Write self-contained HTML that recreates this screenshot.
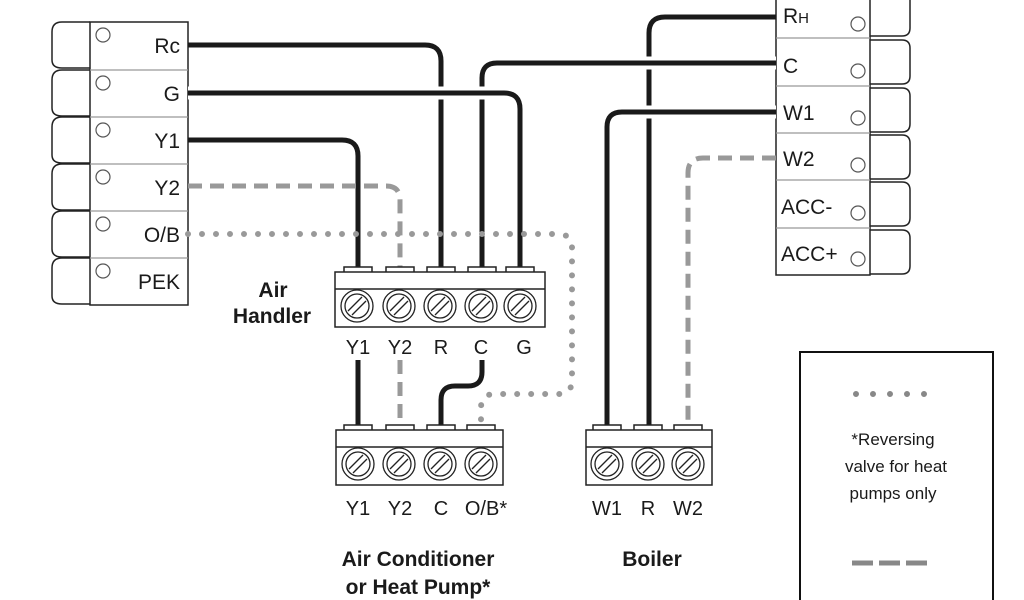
<!DOCTYPE html>
<html><head><meta charset="utf-8"><style>
html,body{margin:0;padding:0;background:#fff;}
svg{display:block;}
text{font-family:"Liberation Sans","DejaVu Sans",sans-serif;fill:#1a1a1a;}
</style></head><body>
<svg width="1024" height="600" viewBox="0 0 1024 600" xmlns="http://www.w3.org/2000/svg">
<!-- Left terminal block -->
<g fill="#fff" stroke="#222" stroke-width="1.5">
<path d="M90 22 H62 Q52 22 52 32 V60 Q52 68 62 68 H90"/>
<path d="M90 70 H62 Q52 70 52 80 V108 Q52 116 62 116 H90"/>
<path d="M90 117 H62 Q52 117 52 127 V155 Q52 163 62 163 H90"/>
<path d="M90 164 H62 Q52 164 52 174 V202 Q52 210 62 210 H90"/>
<path d="M90 211 H62 Q52 211 52 221 V249 Q52 257 62 257 H90"/>
<path d="M90 258 H62 Q52 258 52 268 V296 Q52 304 62 304 H90"/>
<rect x="90" y="22" width="98" height="283"/>
</g>
<g stroke="#999" stroke-width="1.2"><line x1="90" y1="70" x2="188" y2="70"/><line x1="90" y1="117" x2="188" y2="117"/><line x1="90" y1="164" x2="188" y2="164"/><line x1="90" y1="211" x2="188" y2="211"/><line x1="90" y1="258" x2="188" y2="258"/></g>
<g fill="none" stroke="#555" stroke-width="1.2"><circle cx="103" cy="35" r="7"/><circle cx="103" cy="83" r="7"/><circle cx="103" cy="130" r="7"/><circle cx="103" cy="177" r="7"/><circle cx="103" cy="224" r="7"/><circle cx="103" cy="271" r="7"/></g>
<g font-size="21" text-anchor="end"><text x="180" y="53">Rc</text><text x="180" y="101">G</text><text x="180" y="148">Y1</text><text x="180" y="195">Y2</text><text x="180" y="242">O/B</text><text x="180" y="289">PEK</text></g>

<!-- Right terminal block -->
<g fill="#fff" stroke="#222" stroke-width="1.5">
<path d="M870 -10 H902 Q910 -10 910 0 V28 Q910 36 902 36 H870"/>
<path d="M870 40 H902 Q910 40 910 48 V76 Q910 84 902 84 H870"/>
<path d="M870 88 H902 Q910 88 910 96 V124 Q910 132 902 132 H870"/>
<path d="M870 135 H902 Q910 135 910 143 V171 Q910 179 902 179 H870"/>
<path d="M870 182 H902 Q910 182 910 190 V218 Q910 226 902 226 H870"/>
<path d="M870 230 H902 Q910 230 910 238 V266 Q910 274 902 274 H870"/>
<rect x="776" y="-10" width="94" height="285"/>
</g>
<g stroke="#999" stroke-width="1.2"><line x1="776" y1="38" x2="870" y2="38"/><line x1="776" y1="86" x2="870" y2="86"/><line x1="776" y1="133" x2="870" y2="133"/><line x1="776" y1="180" x2="870" y2="180"/><line x1="776" y1="228" x2="870" y2="228"/></g>
<g fill="none" stroke="#555" stroke-width="1.2"><circle cx="858" cy="24" r="7"/><circle cx="858" cy="71" r="7"/><circle cx="858" cy="118" r="7"/><circle cx="858" cy="165" r="7"/><circle cx="858" cy="213" r="7"/><circle cx="858" cy="259" r="7"/></g>
<g font-size="21"><text x="783" y="23">R<tspan font-size="15">H</tspan></text><text x="783" y="73">C</text><text x="783" y="120">W1</text><text x="783" y="166">W2</text><text x="781" y="214">ACC-</text><text x="781" y="261">ACC+</text></g>

<!-- Wires -->
<g fill="none" stroke-width="5">
<path d="M776 17 H665 Q649 17 649 33 V430" stroke="#1a1a1a"/>
<path d="M776 63 H497 Q482 63 482 78 V270" stroke="#fff" stroke-width="13"/>
<path d="M776 63 H497 Q482 63 482 78 V270" stroke="#1a1a1a"/>
<path d="M188 45 H425 Q441 45 441 61 V270" stroke="#1a1a1a"/>
<path d="M188 93 H504 Q520 93 520 109 V270" stroke="#fff" stroke-width="13"/>
<path d="M188 93 H504 Q520 93 520 109 V270" stroke="#1a1a1a"/>
<path d="M776 112 H622 Q607 112 607 127 V430" stroke="#fff" stroke-width="13"/>
<path d="M776 112 H622 Q607 112 607 127 V430" stroke="#1a1a1a"/>
<path d="M188 140 H342 Q358 140 358 156 V270" stroke="#1a1a1a"/>
<path d="M188 186 H386 Q400 186 400 200 V270" stroke="#999" stroke-dasharray="14 8"/>
<path d="M776 158 H703 Q688 158 688 173 V430" stroke="#999" stroke-dasharray="14 8"/>
<path d="M188 234 H558 Q572 234 572 248 V380 Q572 394 558 394 H495 Q481 394 481 408 V425" stroke="#999" stroke-width="6" stroke-linecap="round" stroke-dasharray="0 14"/>
<path d="M358 360 V430" stroke="#1a1a1a"/>
<path d="M400 360 V430" stroke="#999" stroke-dasharray="14 8"/>
<path d="M482 360 V372 Q482 386 468 386 H455 Q441 386 441 400 V430" stroke="#1a1a1a"/>
</g>

<!-- Air handler block -->
<g fill="#fff" stroke="#222" stroke-width="1.5">
<rect x="344" y="267" width="28" height="6"/><rect x="386" y="267" width="28" height="6"/><rect x="427" y="267" width="28" height="6"/><rect x="468" y="267" width="28" height="6"/><rect x="506" y="267" width="28" height="6"/>
<rect x="335" y="272" width="210" height="55"/>
<line x1="335" y1="289" x2="545" y2="289"/>
</g>
<!-- AC block -->
<g fill="#fff" stroke="#222" stroke-width="1.5">
<rect x="344" y="425" width="28" height="6"/><rect x="386" y="425" width="28" height="6"/><rect x="427" y="425" width="28" height="6"/><rect x="467" y="425" width="28" height="6"/>
<rect x="336" y="430" width="167" height="55"/>
<line x1="336" y1="447" x2="503" y2="447"/>
</g>
<!-- Boiler block -->
<g fill="#fff" stroke="#222" stroke-width="1.5">
<rect x="593" y="425" width="28" height="6"/><rect x="634" y="425" width="28" height="6"/><rect x="674" y="425" width="28" height="6"/>
<rect x="586" y="430" width="126" height="55"/>
<line x1="586" y1="447" x2="712" y2="447"/>
</g>
<!-- Screws -->
<g fill="none" stroke="#222" stroke-width="1.3">
<g transform="translate(357,306)"><circle r="16"/><circle r="12"/><line x1="-9" y1="5" x2="5" y2="-9"/><line x1="-5" y1="9" x2="9" y2="-5"/></g>
<g transform="translate(399,306)"><circle r="16"/><circle r="12"/><line x1="-9" y1="5" x2="5" y2="-9"/><line x1="-5" y1="9" x2="9" y2="-5"/></g>
<g transform="translate(440,306)"><circle r="16"/><circle r="12"/><line x1="-9" y1="5" x2="5" y2="-9"/><line x1="-5" y1="9" x2="9" y2="-5"/></g>
<g transform="translate(481,306)"><circle r="16"/><circle r="12"/><line x1="-9" y1="5" x2="5" y2="-9"/><line x1="-5" y1="9" x2="9" y2="-5"/></g>
<g transform="translate(520,306)"><circle r="16"/><circle r="12"/><line x1="-9" y1="5" x2="5" y2="-9"/><line x1="-5" y1="9" x2="9" y2="-5"/></g>
<g transform="translate(358,464)"><circle r="16"/><circle r="12"/><line x1="-9" y1="5" x2="5" y2="-9"/><line x1="-5" y1="9" x2="9" y2="-5"/></g>
<g transform="translate(399,464)"><circle r="16"/><circle r="12"/><line x1="-9" y1="5" x2="5" y2="-9"/><line x1="-5" y1="9" x2="9" y2="-5"/></g>
<g transform="translate(440,464)"><circle r="16"/><circle r="12"/><line x1="-9" y1="5" x2="5" y2="-9"/><line x1="-5" y1="9" x2="9" y2="-5"/></g>
<g transform="translate(481,464)"><circle r="16"/><circle r="12"/><line x1="-9" y1="5" x2="5" y2="-9"/><line x1="-5" y1="9" x2="9" y2="-5"/></g>
<g transform="translate(607,464)"><circle r="16"/><circle r="12"/><line x1="-9" y1="5" x2="5" y2="-9"/><line x1="-5" y1="9" x2="9" y2="-5"/></g>
<g transform="translate(648,464)"><circle r="16"/><circle r="12"/><line x1="-9" y1="5" x2="5" y2="-9"/><line x1="-5" y1="9" x2="9" y2="-5"/></g>
<g transform="translate(688,464)"><circle r="16"/><circle r="12"/><line x1="-9" y1="5" x2="5" y2="-9"/><line x1="-5" y1="9" x2="9" y2="-5"/></g>
</g>
<!-- Terminal labels -->
<g font-size="20" text-anchor="middle">
<text x="358" y="354">Y1</text><text x="400" y="354">Y2</text><text x="441" y="354">R</text><text x="481" y="354">C</text><text x="524" y="354">G</text>
<text x="358" y="515">Y1</text><text x="400" y="515">Y2</text><text x="441" y="515">C</text><text x="486" y="515">O/B*</text>
<text x="607" y="515">W1</text><text x="648" y="515">R</text><text x="688" y="515">W2</text>
</g>
<g font-size="21" font-weight="bold" text-anchor="middle">
<text x="273" y="297">Air</text><text x="272" y="323">Handler</text>
<text x="418" y="566">Air Conditioner</text><text x="418" y="594">or Heat Pump*</text>
<text x="652" y="566">Boiler</text>
</g>
<!-- Legend -->
<rect x="800" y="352" width="193" height="260" fill="none" stroke="#111" stroke-width="2"/>
<line x1="856" y1="394" x2="925" y2="394" stroke="#888" stroke-width="6" stroke-linecap="round" stroke-dasharray="0 17"/>
<g font-size="17" text-anchor="middle"><text x="893" y="445">*Reversing</text><text x="896" y="472">valve for heat</text><text x="893" y="499">pumps only</text></g>
<line x1="852" y1="563" x2="928" y2="563" stroke="#888" stroke-width="5" stroke-dasharray="21 6"/>
</svg>
</body></html>
